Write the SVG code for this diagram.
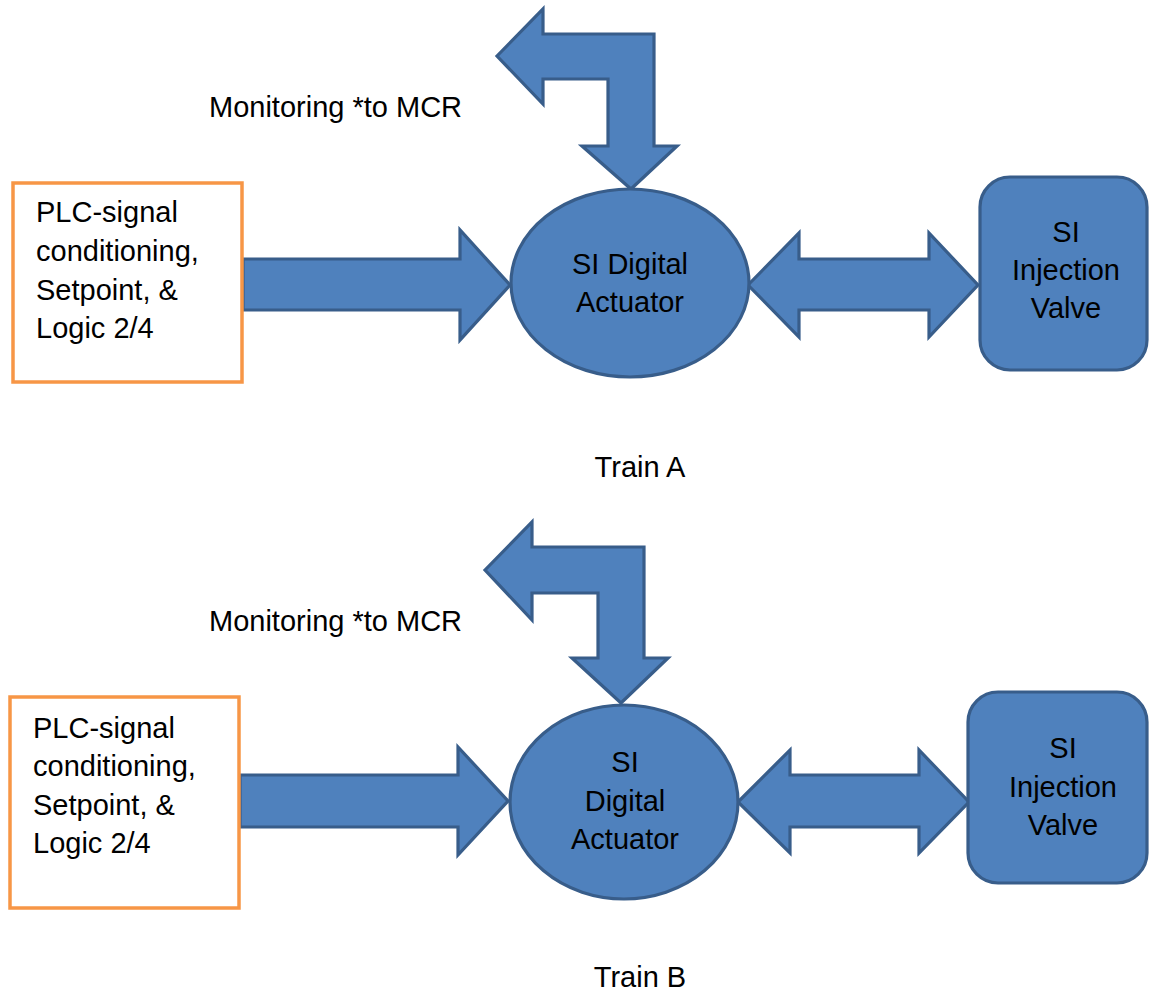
<svg xmlns="http://www.w3.org/2000/svg" width="1149" height="993" viewBox="0 0 1149 993">
<style>
.shape{fill:#4F81BD;stroke:#385D8A;stroke-width:3.2;stroke-linejoin:miter}
.box{fill:#FFFFFF;stroke:#F79646;stroke-width:3.5}
text{font-family:"Liberation Sans",Arial,sans-serif;font-size:29px;fill:#000000}
.c{text-anchor:middle}
</style>
<rect width="1149" height="993" fill="#FFFFFF"/>
<g id="connectors">
  <path id="monA" class="shape" d="M497,56 L543,9 L543,34 L654,34 L654,146 L677,146 L631,189 L582,146 L608,146 L608,79 L543,79 L543,104 Z"/>
  <path id="inA" class="shape" d="M243,259 L460,259 L460,230 L510,285 L460,340 L460,310 L243,310 Z"/>
  <path id="bidirA" class="shape" d="M748,285 L799,233 L799,259 L929,259 L929,233 L978,285 L929,337 L929,310 L799,310 L799,337 Z"/>
  <path id="monB" class="shape" d="M485,570 L532,522 L532,547 L644,547 L644,658 L668,658 L621,703 L572,658 L598,658 L598,593 L532,593 L532,620 Z"/>
  <path id="inB" class="shape" d="M240,775 L458,775 L458,747 L508,801 L458,855 L458,827 L240,827 Z"/>
  <path id="bidirB" class="shape" d="M738,802 L790,750 L790,775 L919,775 L919,750 L969,802 L919,853 L919,827 L790,827 L790,853 Z"/>
</g>
<g id="labelMonA"><text x="209" y="117">Monitoring *to MCR</text></g>
<g id="plcA">
  <rect class="box" x="13" y="183" width="229" height="199"/>
  <text x="36" y="222">PLC-signal</text>
  <text x="36" y="261">conditioning,</text>
  <text x="36" y="300">Setpoint, &amp;</text>
  <text x="36" y="338">Logic 2/4</text>
</g>
<g id="actA">
  <ellipse class="shape" cx="630" cy="283" rx="119" ry="94"/>
  <text class="c" x="630" y="274">SI Digital</text>
  <text class="c" x="630" y="312">Actuator</text>
</g>
<g id="valveA">
  <rect class="shape" x="980" y="177" width="167" height="193" rx="30" ry="30"/>
  <text class="c" x="1066" y="242">SI</text>
  <text class="c" x="1066" y="280">Injection</text>
  <text class="c" x="1066" y="318">Valve</text>
</g>
<g id="trainA"><text class="c" x="640" y="477">Train A</text></g>
<g id="labelMonB"><text x="209" y="631">Monitoring *to MCR</text></g>
<g id="plcB">
  <rect class="box" x="10" y="697" width="229" height="211"/>
  <text x="33" y="738">PLC-signal</text>
  <text x="33" y="776">conditioning,</text>
  <text x="33" y="815">Setpoint, &amp;</text>
  <text x="33" y="853">Logic 2/4</text>
</g>
<g id="actB">
  <ellipse class="shape" cx="624" cy="802" rx="114" ry="97"/>
  <text class="c" x="625" y="772">SI</text>
  <text class="c" x="625" y="811">Digital</text>
  <text class="c" x="625" y="849">Actuator</text>
</g>
<g id="valveB">
  <rect class="shape" x="968" y="692" width="179" height="191" rx="30" ry="30"/>
  <text class="c" x="1063" y="758">SI</text>
  <text class="c" x="1063" y="797">Injection</text>
  <text class="c" x="1063" y="835">Valve</text>
</g>
<g id="trainB"><text class="c" x="640" y="987">Train B</text></g>
</svg>
